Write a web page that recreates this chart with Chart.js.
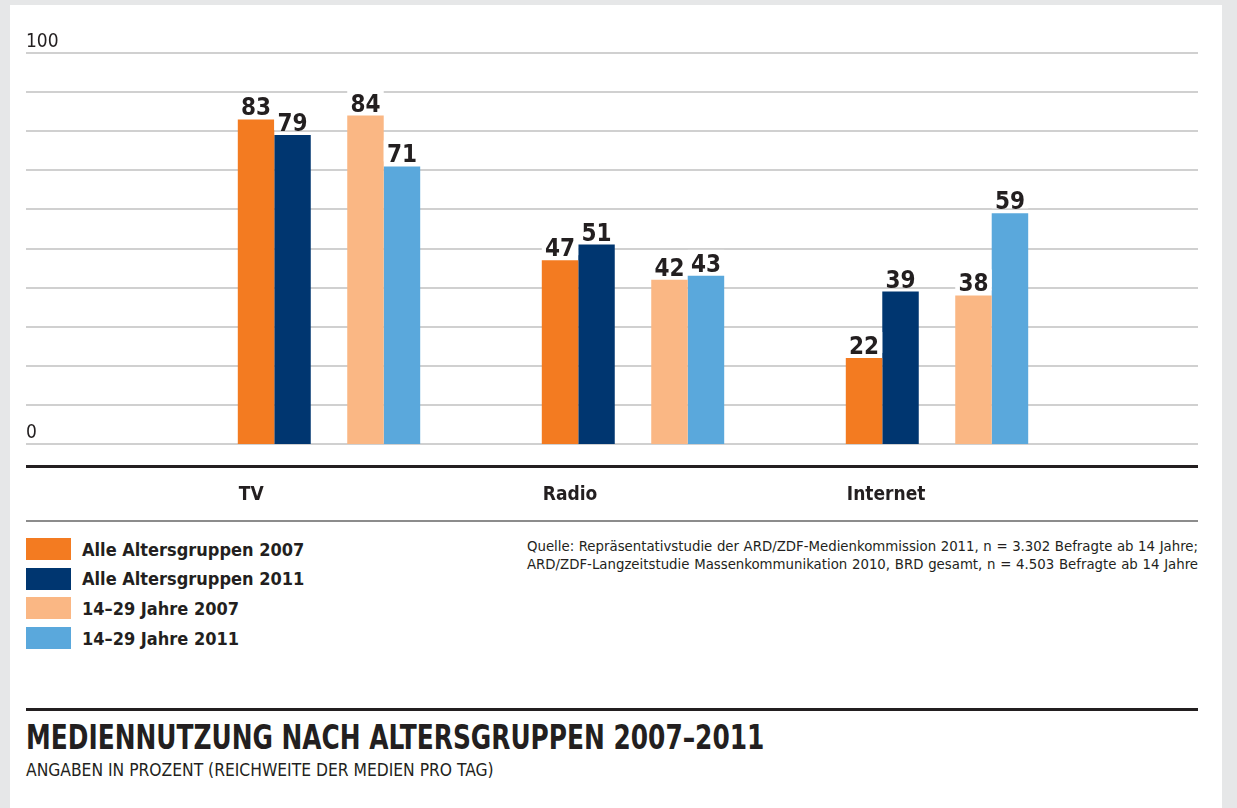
<!DOCTYPE html>
<html lang="de">
<head>
  <meta charset="UTF-8">
  <title>Mediennutzung nach Altersgruppen 2007–2011</title>
  <script src="https://cdn.jsdelivr.net/npm/chart.js"></script>
  <style>
    body {
      margin: 0;
      width: 1237px;
      height: 808px;
      background: #e6e7e8;
      position: relative;
      overflow: hidden;
      font-family: "DejaVu Sans Condensed", sans-serif;
      color: #231f20;
    }
    .panel {
      position: absolute;
      left: 10px;
      top: 5px;
      width: 1212px;
      height: 810px;
      background: #fff;
    }
    .chart-box {
      position: absolute;
      left: 0;
      top: 0;
      width: 1237px;
      height: 530px;
    }
    .legend {
      position: absolute;
      left: 26px;
      top: 538px;
    }
    .legend-item {
      display: flex;
      align-items: center;
      height: 22px;
      margin-bottom: 7.7px;
      font-weight: bold;
      font-size: 18px;
    }
    .legend-item span.box {
      display: inline-block;
      width: 45px;
      height: 22px;
      margin-right: 11px;
    }
    .source {
      position: absolute;
      left: 527px;
      top: 537px;
      width: 671px;
      font-size: 14.8px;
      line-height: 18px;
    }
    .source div {
      white-space: nowrap;
      text-align: justify;
      text-align-last: justify;
    }
    .title-line {
      position: absolute;
      left: 26px;
      top: 708px;
      width: 1172px;
      height: 3px;
      background: #231f20;
    }
    .title {
      position: absolute;
      left: 26px;
      top: 717px;
      font-size: 34px;
      font-weight: bold;
      white-space: nowrap;
      transform: scaleX(0.813);
      transform-origin: left top;
    }
    .subtitle {
      position: absolute;
      left: 26px;
      top: 760px;
      font-size: 17.3px;
      white-space: nowrap;
    }
  </style>
</head>
<body>
<div class="panel"></div>
<div class="chart-box">
  <canvas id="myChart"></canvas>
</div>
<div class="legend" id="legend"></div>
<div class="source">
  <div>Quelle: Repräsentativstudie der ARD/ZDF-Medienkommission 2011, n = 3.302 Befragte ab 14 Jahre;</div>
  <div>ARD/ZDF-Langzeitstudie Massenkommunikation 2010, BRD gesamt, n = 4.503 Befragte ab 14 Jahre</div>
</div>
<div class="title-line"></div>
<div class="title">MEDIENNUTZUNG NACH ALTERSGRUPPEN 2007–2011</div>
<div class="subtitle">ANGABEN IN PROZENT (REICHWEITE DER MEDIEN PRO TAG)</div>
<script>
  const categories = ['TV', 'Radio', 'Internet'];
  const seriesNames = ['Alle Altersgruppen 2007', 'Alle Altersgruppen 2011', '14–29 Jahre 2007', '14–29 Jahre 2011'];
  const alle2007 = [83, 47, 22];
  const alle2011 = [79, 51, 39];
  const jung2007 = [84, 42, 38];
  const jung2011 = [71, 43, 59];
  const gridValues = [0, 10, 20, 30, 40, 50, 60, 70, 80, 90, 100];
  const axisLabels = [0, 100];

  const colors = ['#f37b21', '#003670', '#fab784', '#5aa8dc'];
  const fontFamily = '"DejaVu Sans Condensed", sans-serif';

  // HTML legend
  const legendEl = document.getElementById('legend');
  seriesNames.forEach((name, i) => {
    const item = document.createElement('div');
    item.className = 'legend-item';
    item.innerHTML = `<span class="box" style="background:${colors[i]}"></span>${name}`;
    legendEl.appendChild(item);
  });

  const seriesData = [alle2007, alle2011, jung2007, jung2011];
  const datasets = seriesData.map((d, i) => ({
    label: seriesNames[i],
    data: d,
    backgroundColor: colors[i]
  }));
  // empty slot to open the gap between the two pairs
  datasets.splice(2, 0, { label: '', data: categories.map(() => null), backgroundColor: 'rgba(0,0,0,0)' });

  const decor = {
    id: 'decor',
    beforeDatasetsDraw(chart) {
      const { ctx, scales: { y } } = chart;
      ctx.save();
      ctx.strokeStyle = '#d0d0d0';
      ctx.lineWidth = 2;
      gridValues.forEach(v => {
        const py = Math.round(y.getPixelForValue(v));
        ctx.beginPath();
        ctx.moveTo(26, py);
        ctx.lineTo(1198, py);
        ctx.stroke();
      });
      ctx.fillStyle = '#231f20';
      ctx.font = '19px ' + fontFamily;
      ctx.textAlign = 'left';
      ctx.textBaseline = 'alphabetic';
      axisLabels.forEach(v => {
        ctx.fillText(String(v), 26, y.getPixelForValue(v) - 6);
      });
      // axis rules under the plot
      ctx.strokeStyle = '#231f20';
      ctx.lineWidth = 3;
      ctx.beginPath();
      ctx.moveTo(26, 466.5);
      ctx.lineTo(1198, 466.5);
      ctx.stroke();
      ctx.strokeStyle = '#8c8c8c';
      ctx.lineWidth = 2;
      ctx.beginPath();
      ctx.moveTo(26, 521);
      ctx.lineTo(1198, 521);
      ctx.stroke();
      ctx.restore();
    },
    afterDatasetsDraw(chart) {
      const { ctx } = chart;
      ctx.save();
      ctx.textAlign = 'center';
      ctx.textBaseline = 'alphabetic';
      chart.data.datasets.forEach((ds, di) => {
        if (!ds.label) return;
        const meta = chart.getDatasetMeta(di);
        meta.data.forEach((bar, i) => {
          const val = ds.data[i];
          ctx.fillStyle = '#fff';
          ctx.fillRect(bar.x - bar.width / 2, bar.y - 26, bar.width, 21);
          ctx.fillStyle = '#231f20';
          ctx.font = 'bold 24px ' + fontFamily;
          ctx.fillText(String(val), bar.x, bar.y - 4);
        });
      });
      // category labels, aligned with the first bar of each group
      const first = chart.getDatasetMeta(0);
      ctx.textAlign = 'left';
      ctx.font = 'bold 19px ' + fontFamily;
      first.data.forEach((bar, i) => {
        ctx.fillText(categories[i], bar.x - bar.width / 2 + 1, 500);
      });
      ctx.restore();
    }
  };

  new Chart(document.getElementById('myChart'), {
    type: 'bar',
    data: { labels: categories, datasets: datasets },
    options: {
      responsive: true,
      maintainAspectRatio: false,
      animation: false,
      layout: { padding: { left: 177, right: 148, top: 53, bottom: 86 } },
      datasets: { bar: { categoryPercentage: 0.6, barPercentage: 1 } },
      plugins: { legend: { display: false }, tooltip: { enabled: false } },
      scales: {
        x: { display: false, offset: true },
        y: { display: false, min: 0, max: 100 }
      }
    },
    plugins: [decor]
  });
</script>
</body>
</html>
